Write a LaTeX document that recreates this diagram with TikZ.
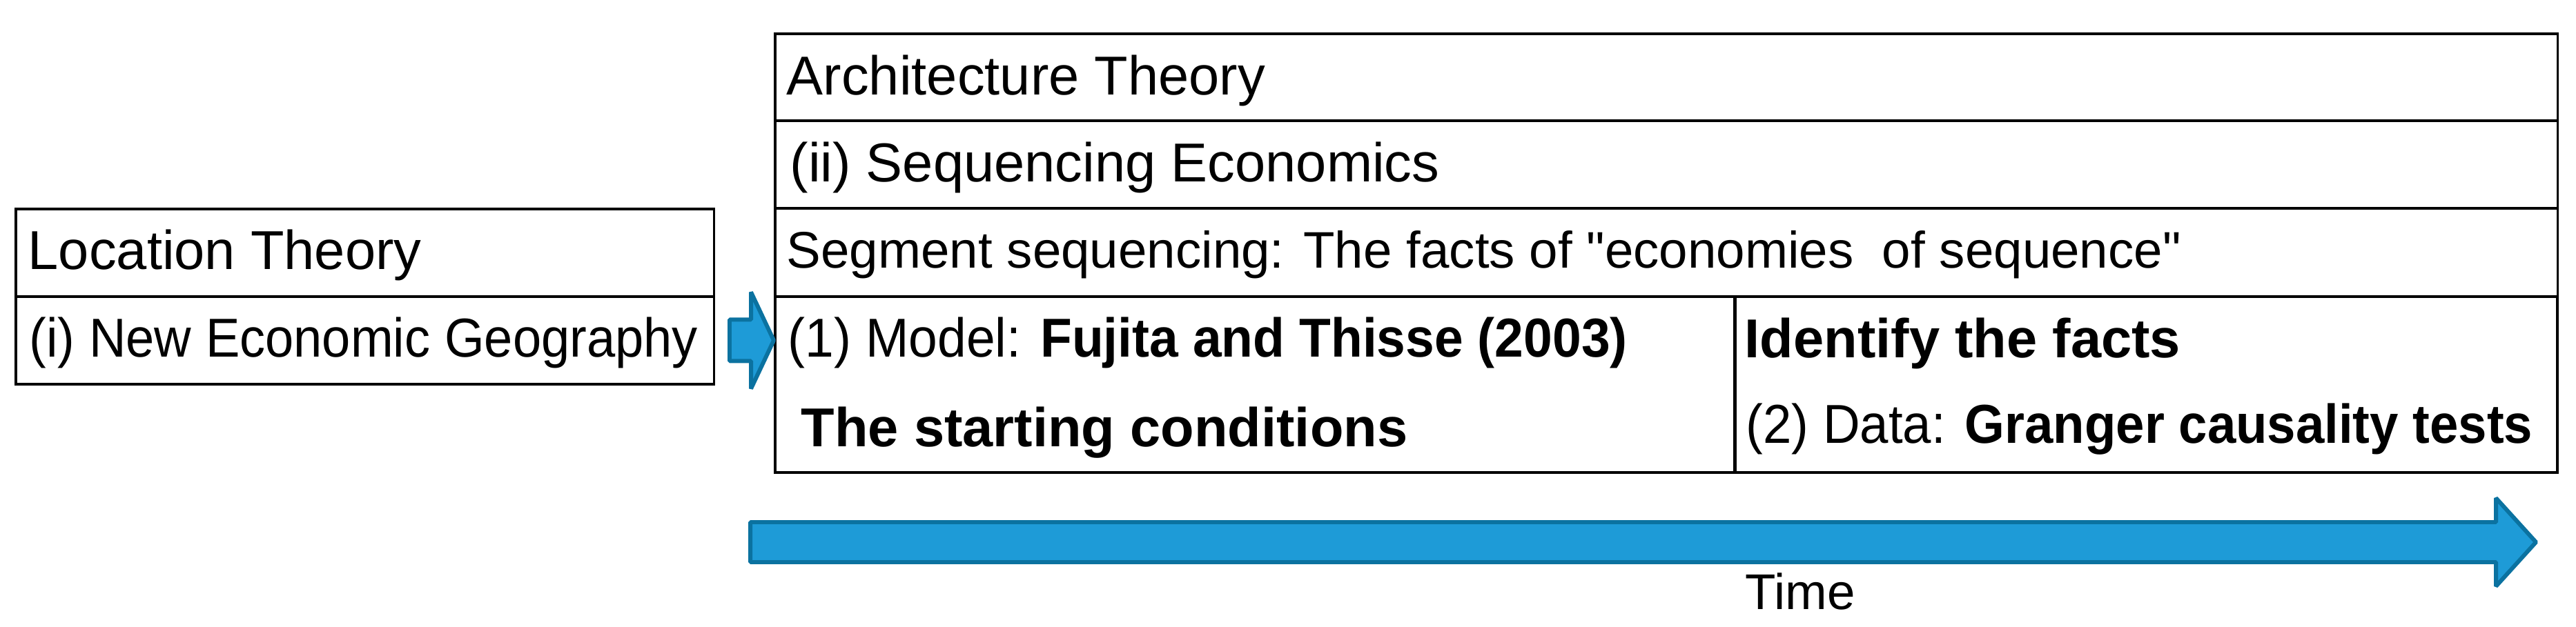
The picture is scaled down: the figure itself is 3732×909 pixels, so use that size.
\documentclass[tikz,border=0pt]{standalone}
\usepackage{fontspec}
\setmainfont{Liberation Sans}[Ligatures=TeXOff]
\usetikzlibrary{calc}
\definecolor{arrowfill}{HTML}{1E9BD7}
\definecolor{arrowedge}{HTML}{0B72A0}
\begin{document}
\begin{tikzpicture}[x=0.01cm,y=-0.01cm,
  cell/.style={draw=black, line width=1.1pt, anchor=north west, inner sep=0pt},
  lbl/.style={anchor=base west, inner sep=0pt, font=\fontsize{22.6pt}{27pt}\selectfont},
  seglbl/.style={anchor=base west, inner sep=0pt, font=\fontsize{21.2pt}{25pt}\selectfont},
  timelbl/.style={anchor=base, inner sep=0pt, font=\fontsize{20.7pt}{25pt}\selectfont},
  blockarrow/.style={fill=arrowfill, draw=arrowedge, line width=1.7pt, line join=bevel}]
\useasboundingbox (0,0) rectangle (3732,909);
% left boxes
\node[cell, minimum width=10.11cm, minimum height=1.27cm] (loc) at (21,301) {};
\node[cell, minimum width=10.11cm, minimum height=1.27cm] (ng) at (21,428) {};
% main table
\node[cell, minimum width=25.81cm, minimum height=1.26cm] (arch) at (1121,47) {};
\node[cell, minimum width=25.81cm, minimum height=1.27cm] (seq) at (1121,173) {};
\node[cell, minimum width=25.81cm, minimum height=1.28cm] (seg) at (1121,300) {};
\node[cell, minimum width=13.90cm, minimum height=2.55cm] (model) at (1121,428) {};
\node[cell, minimum width=11.91cm, minimum height=2.55cm] (data) at (2511,428) {};
% texts
\node[lbl] (locT) at (40,390) {Location Theory};
\node[lbl] (ngT) at (42,517) {\scalebox{0.933}[1]{(i) New Economic Geography}};
\node[lbl] (archT) at (1139,137) {Architecture Theory};
\node[lbl] (seqT) at (1144,263) {(ii) Sequencing Economics};
\node[seglbl] (segT) at (1139,388) {Segment sequencing: The facts of "economies\ \ of sequence"};
\node[lbl] (modelT) at (1141,517) {\scalebox{0.944}[1]{(1) Model: \textbf{Fujita and Thisse (2003)}}};
\node[lbl] (startT) at (1160,647) {\textbf{The starting conditions}};
\node[lbl] (idT) at (2527,518) {\textbf{Identify the facts}};
\node[lbl] (dataT) at (2529,642) {\scalebox{0.936}[1]{(2) Data: \textbf{Granger causality tests}}};
\node[timelbl] (time) at (2608,883) {Time};
% small block arrow from left box to model cell
\coordinate (tipS) at (model.west |- ng.east);
\draw[blockarrow] ($(tipS)+(-64,-30)$) -- ($(tipS)+(-33,-30)$) -- ($(tipS)+(-33,-70)$)
  -- (tipS) -- ($(tipS)+(-33,70)$) -- ($(tipS)+(-33,30)$) -- ($(tipS)+(-64,30)$) -- cycle;
% time arrow
\coordinate (tipB) at (3674,786);
\draw[blockarrow] ($(tipB)+(-2587,-29)$) -- ($(tipB)+(-58,-29)$) -- ($(tipB)+(-58,-64)$)
  -- (tipB) -- ($(tipB)+(-58,64)$) -- ($(tipB)+(-58,29)$) -- ($(tipB)+(-2587,29)$) -- cycle;
\end{tikzpicture}
\end{document}
